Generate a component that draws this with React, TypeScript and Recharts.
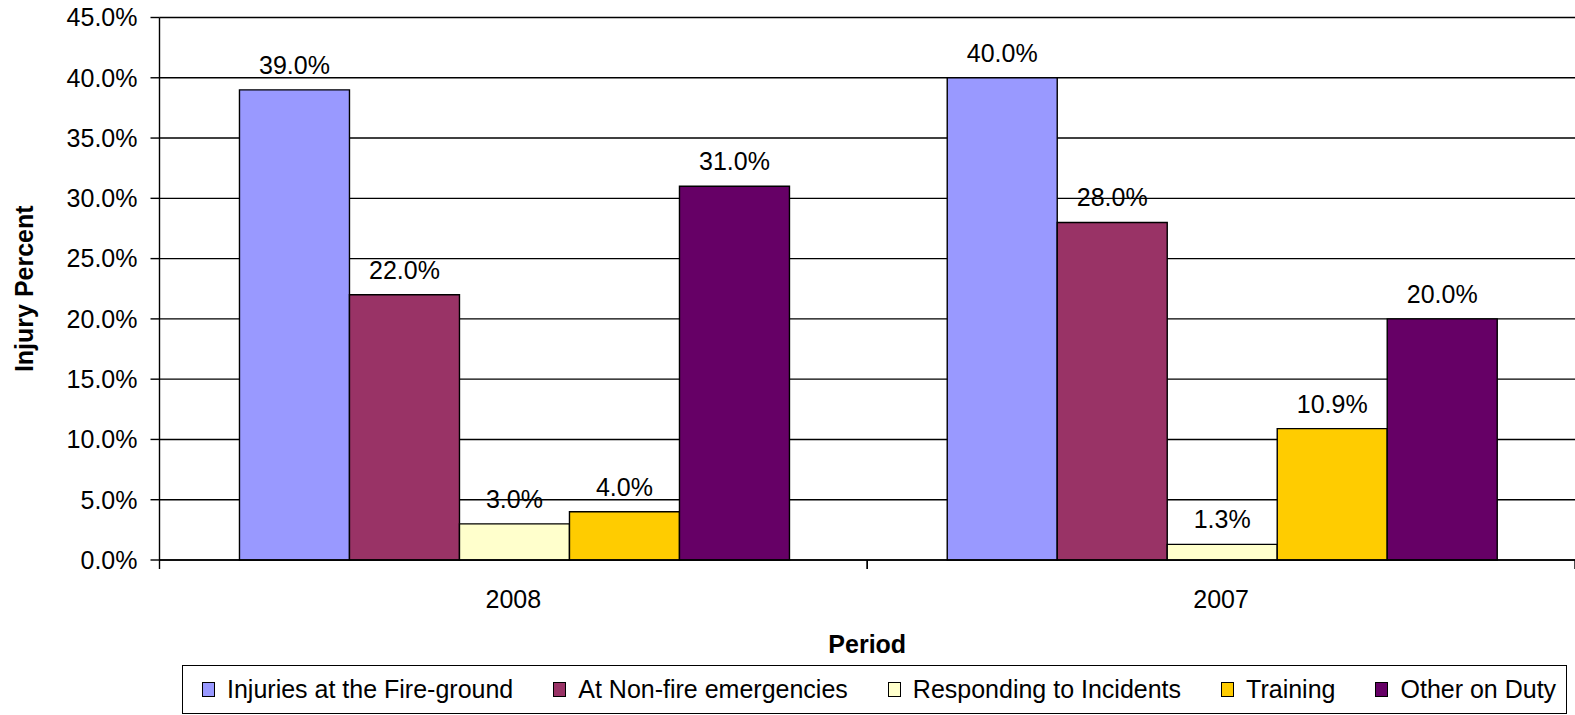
import { Bar, BarChart, CartesianGrid, LabelList, XAxis, YAxis } from "recharts";

const categories = ["2008", "2007"];
const fireground = [39.0, 40.0];
const nonFire = [22.0, 28.0];
const responding = [3.0, 1.3];
const training = [4.0, 10.9];
const otherDuty = [31.0, 20.0];

const yTicks = [0, 5, 10, 15, 20, 25, 30, 35, 40, 45];

const series = [
  { key: "fireground", name: "Injuries at the Fire-ground", color: "#9999FF" },
  { key: "nonFire", name: "At Non-fire emergencies", color: "#993366" },
  { key: "responding", name: "Responding to Incidents", color: "#FFFFCC" },
  { key: "training", name: "Training", color: "#FFCC00" },
  { key: "otherDuty", name: "Other on Duty", color: "#660066" },
];

const data = categories.map((period, i) => ({
  period,
  fireground: fireground[i],
  nonFire: nonFire[i],
  responding: responding[i],
  training: training[i],
  otherDuty: otherDuty[i],
}));

const font = "'Liberation Sans', Arial, sans-serif";
const pct = (v: number) => `${Number(v).toFixed(1)}%`;
const TICK_GAP = 30;

// category label plus the small tick marks on the band edges (Excel style)
function PeriodTick(props: any) {
  const { x, y, payload } = props;
  const half = payload?.offset ?? 0;
  const axisY = y - TICK_GAP;
  return (
    <g>
      <line x1={x - half} x2={x - half} y1={axisY} y2={axisY + 9} stroke="#000" strokeWidth={1.4} />
      <line x1={x + half} x2={x + half} y1={axisY} y2={axisY + 9} stroke="#000" strokeWidth={1.4} />
      <text x={x} y={y} dy="0.71em" textAnchor="middle" fill="#000" fontSize={25}>
        {payload.value}
      </text>
    </g>
  );
}

export default function App() {
  return (
    <div
      style={{
        position: "absolute",
        left: 0,
        top: 0,
        width: 1575,
        height: 715,
        background: "#fff",
        fontFamily: font,
      }}
    >
      <BarChart
        width={1575}
        height={715}
        data={data}
        margin={{ top: 17.5, right: 0, left: 0, bottom: 55 }}
        barCategoryGap="11.3%"
        barGap={0}
        style={{ fontFamily: font }}
      >
        <CartesianGrid vertical={false} stroke="#000" strokeWidth={1.4} />
        <XAxis
          dataKey="period"
          tickLine={false}
          tickSize={0}
          tickMargin={TICK_GAP}
          height={100}
          axisLine={{ stroke: "#000", strokeWidth: 1.4 }}
          tick={<PeriodTick />}
          label={{
            value: "Period",
            position: "insideBottom",
            offset: 7,
            style: { fontWeight: 700, fontSize: 25, fill: "#000" },
          }}
        />
        <YAxis
          width={159.5}
          domain={[0, 45]}
          ticks={yTicks}
          tickFormatter={pct}
          tickSize={9}
          tickMargin={13}
          interval={0}
          axisLine={{ stroke: "#000", strokeWidth: 1.4 }}
          tickLine={{ stroke: "#000", strokeWidth: 1.4 }}
          tick={{ fill: "#000", fontSize: 25 }}
          label={{
            value: "Injury Percent",
            angle: -90,
            position: "insideLeft",
            offset: 24,
            style: { fontWeight: 700, fontSize: 25, fill: "#000", textAnchor: "middle" },
          }}
        />
        {series.map((s) => (
          <Bar
            key={s.key}
            dataKey={s.key}
            name={s.name}
            fill={s.color}
            stroke="#000"
            strokeWidth={1.4}
            isAnimationActive={false}
          >
            <LabelList
              dataKey={s.key}
              position="top"
              offset={16}
              formatter={(v: any) => pct(v)}
              style={{ fill: "#000", fontSize: 25 }}
            />
          </Bar>
        ))}
      </BarChart>
      <div
        style={{
          position: "absolute",
          left: 182,
          top: 665,
          width: 1385,
          height: 49,
          boxSizing: "border-box",
          border: "1.5px solid #000",
          display: "flex",
          alignItems: "center",
          paddingLeft: 19,
          gap: 40,
          fontSize: 25,
          color: "#000",
          whiteSpace: "nowrap",
        }}
      >
        {series.map((s) => (
          <div key={s.key} style={{ display: "flex", alignItems: "center", gap: 12 }}>
            <span
              style={{
                display: "inline-block",
                width: 13,
                height: 15,
                boxSizing: "border-box",
                background: s.color,
                border: "1.5px solid #000",
              }}
            />
            <span>{s.name}</span>
          </div>
        ))}
      </div>
    </div>
  );
}
